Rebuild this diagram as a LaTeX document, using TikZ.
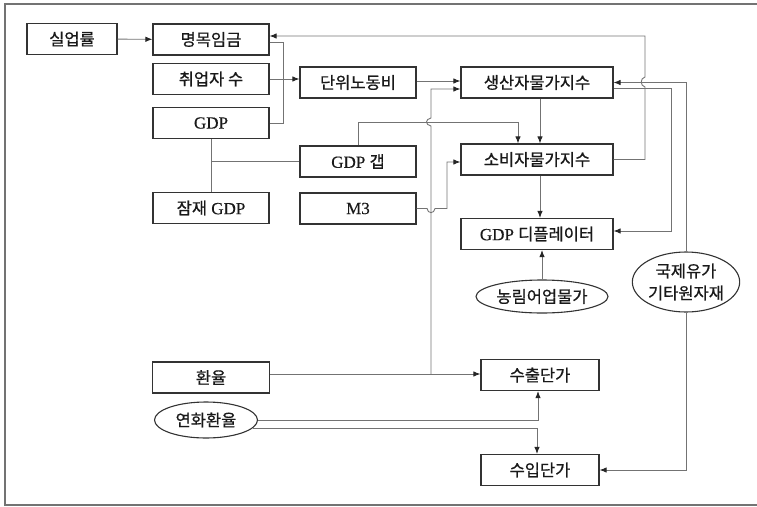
\documentclass[tikz,border=0pt]{standalone}
\usepackage{fontspec}
\setmainfont{Liberation Serif}[FakeBold=0.35]
\newfontfamily\kr{Noto Sans CJK KR}[FakeBold=0.7]
\usetikzlibrary{arrows.meta,shapes.geometric}
\newcommand\krtext[1]{{\kr\fontsize{16.5}{22}\selectfont #1}}
\begin{document}
\begin{tikzpicture}[x=1pt,y=-1pt,
  box/.style={draw=black!80,line width=1.2pt,fill=white,minimum width=116pt,minimum height=31pt,inner sep=0pt,text=black!90,font=\fontsize{17}{20}\selectfont},
  oval/.style={ellipse,draw=black!80,line width=1.1pt,fill=white,inner sep=0pt,align=center,text=black!90,font=\kr\fontsize{16.5}{22}\selectfont},
  ln/.style={draw=black!55,line width=0.9pt},
  arr/.style={ln,-{Latex[length=7pt,width=5.5pt,color=black!85]}}]
\useasboundingbox (0,0) rectangle (757,506);
\draw[black!55,line width=1.8pt] (5,4) rectangle (775,505);
% nodes
\node[box,minimum width=90pt] (unemp) at (72,39) {\krtext{실업률}};
\node[box] (wage) at (211,39.5) {\krtext{명목임금}};
\node[box] (emp) at (211,79) {\krtext{취업자 수}};
\node[box] (gdp) at (211,123) {GDP};
\node[box] (pgdp) at (211,208) {\krtext{잠재} GDP};
\node[box] (ulc) at (358,82.5) {\krtext{단위노동비}};
\node[box] (gap) at (358,161.5) {GDP \krtext{갭}};
\node[box] (m3) at (358,208.5) {M3};
\node[box,minimum width=152pt] (ppi) at (537,82.5) {\krtext{생산자물가지수}};
\node[box,minimum width=152pt] (cpi) at (537,159.5) {\krtext{소비자물가지수}};
\node[box,minimum width=152pt] (defl) at (537,234) {GDP \krtext{디플레이터}};
\node[oval,minimum width=132pt,minimum height=33pt] (agri) at (542,296.5) {농림어업물가};
\node[oval,minimum width=102pt,minimum height=60pt] (oil) at (686,282) {국제유가\\기타원자재};
\node[box,minimum width=118pt] (exp) at (540,375) {\krtext{수출단가}};
\node[box,minimum width=118pt] (imp) at (540,470) {\krtext{수입단가}};
\node[box,minimum width=117pt] (fx) at (211,377.5) {\krtext{환율}};
\node[oval,minimum width=103pt,minimum height=36pt] (yen) at (206,420) {연화환율};
% connectors
\draw[arr] (unemp) -- (wage);
\draw[ln] ([yshift=-2.5pt]wage.east) -- (283,42) -- (283,123) -- (gdp.east);
\draw[arr] (emp.east) -- (emp.east -| ulc.west);
\draw[arr] ([yshift=1.5pt]ulc.east) -- ([yshift=1.5pt]ppi.west);
\coordinate (fxj) at (431,374);
\draw[arr] ([yshift=3.5pt]fx.east) -- ([yshift=1pt]exp.west);
\draw[arr] (fxj) -- (431,126) .. controls (425,125) and (425,119) .. (431,118) -- (431,89) -- ([yshift=-6.5pt]ppi.west);
\draw[arr] (m3.east) -- (427,208.5) .. controls (428,214) and (434,214) .. (435,208.5) -- (447,208.5) -- (447,162) -- ([yshift=-2.5pt]cpi.west);
\draw[ln] (gdp.south) -- (pgdp.north);
\draw[ln] (gap.west) -- (gap.west -| gdp.south);
\draw[arr] (gap.north) |- (518,122) -- ([xshift=-19pt]cpi.north);
\draw[arr] ([xshift=3pt]ppi.south) -- ([xshift=3pt]cpi.north);
\draw[arr] ([xshift=3pt]cpi.south) -- ([xshift=3pt]defl.north);
\draw[arr] (cpi.east) -- (645,159.5) -- (645,87) .. controls (640,86) and (640,78) .. (645,77) -- (645,36) -- ([yshift=3.5pt]wage.east);
\draw[arr] ([yshift=-6pt]ppi.east) -- (671,88.5) -- (671,231) -- ([yshift=3pt]defl.east);
\draw[arr] (oil.north) |- (ppi.east);
\draw[arr] (oil.south) |- (imp.east);
\draw[arr] (agri.north) -- (agri.north |- defl.south);
\draw[arr] (yen.east) -| ([xshift=-2pt]exp.south);
\draw[arr] (yen.-10) -| ([xshift=-3pt]imp.north);
\end{tikzpicture}
\end{document}
